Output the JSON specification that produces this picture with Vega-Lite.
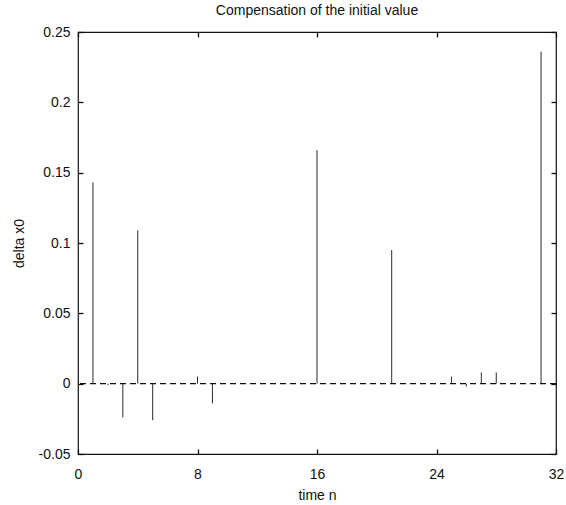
{
  "$schema": "https://vega.github.io/schema/vega-lite/v6.json",
  "autosize": "none",
  "width": 478,
  "height": 422,
  "padding": {"left": 78, "top": 32, "right": 10, "bottom": 51},
  "background": "white",
  "config": {
    "font": "Liberation Sans",
    "view": {"stroke": "#111", "strokeWidth": 1.2},
    "axis": {"grid": false, "domain": false, "ticks": true, "zindex": 1, "tickColor": "#111", "tickWidth": 1.3, "tickOpacity": 1, "labelColor": "#111", "titleColor": "#111", "labelFontSize": 14, "titleFontSize": 14, "titleFontWeight": "normal", "labelFont": "Liberation Sans", "titleFont": "Liberation Sans"}
  },
  "title": {"text": "Compensation of the initial value", "fontSize": 14, "fontWeight": "normal", "font": "Liberation Sans", "color": "#111", "offset": 7, "anchor": "middle"},
  "data": {"values": [
    {"n": 1, "v": 0.143},
    {"n": 2, "v": -0.001},
    {"n": 3, "v": -0.024},
    {"n": 4, "v": 0.109},
    {"n": 5, "v": -0.026},
    {"n": 8, "v": 0.005},
    {"n": 9, "v": -0.014},
    {"n": 16, "v": 0.166},
    {"n": 21, "v": 0.095},
    {"n": 25, "v": 0.005},
    {"n": 26, "v": -0.002},
    {"n": 27, "v": 0.008},
    {"n": 28, "v": 0.008},
    {"n": 31, "v": 0.236}
  ]},
  "resolve": {"axis": {"x": "independent", "y": "independent"}},
  "layer": [
    {
      "mark": {"type": "point", "opacity": 0},
      "encoding": {
        "x": {"field": "n", "type": "quantitative", "scale": {"domain": [0, 32], "nice": false},
              "axis": {"orient": "top", "values": [0, 8, 16, 24, 32], "labels": false, "title": null, "tickSize": 5, "offset": -5}},
        "y": {"field": "v", "type": "quantitative", "scale": {"domain": [-0.05, 0.25], "nice": false},
              "axis": {"orient": "right", "values": [-0.05, 0, 0.05, 0.1, 0.15, 0.2, 0.25], "labels": false, "title": null, "tickSize": 5, "offset": -5}}
      }
    },
    {
      "mark": {"type": "rule", "color": "#2b2b2b", "strokeWidth": 1},
      "encoding": {
        "x": {"field": "n", "type": "quantitative",
              "axis": {"orient": "bottom", "values": [0, 8, 16, 24, 32], "title": "time n", "tickSize": 5, "offset": -5, "labelPadding": 13, "titlePadding": 7, "labelFlush": false}},
        "y": {"field": "v", "type": "quantitative",
              "axis": {"orient": "left", "values": [-0.05, 0, 0.05, 0.1, 0.15, 0.2, 0.25], "labelExpr": "'' + datum.value", "title": "delta x0", "tickSize": 5, "offset": -5, "labelPadding": 8, "titlePadding": 12, "labelFlush": false}},
        "y2": {"datum": 0}
      }
    },
    {
      "data": {"values": [{"z": 0}]},
      "mark": {"type": "rule", "color": "#111", "strokeWidth": 1.3, "strokeDash": [6, 4]},
      "encoding": {
        "y": {"field": "z", "type": "quantitative", "axis": null}
      }
    }
  ]
}
